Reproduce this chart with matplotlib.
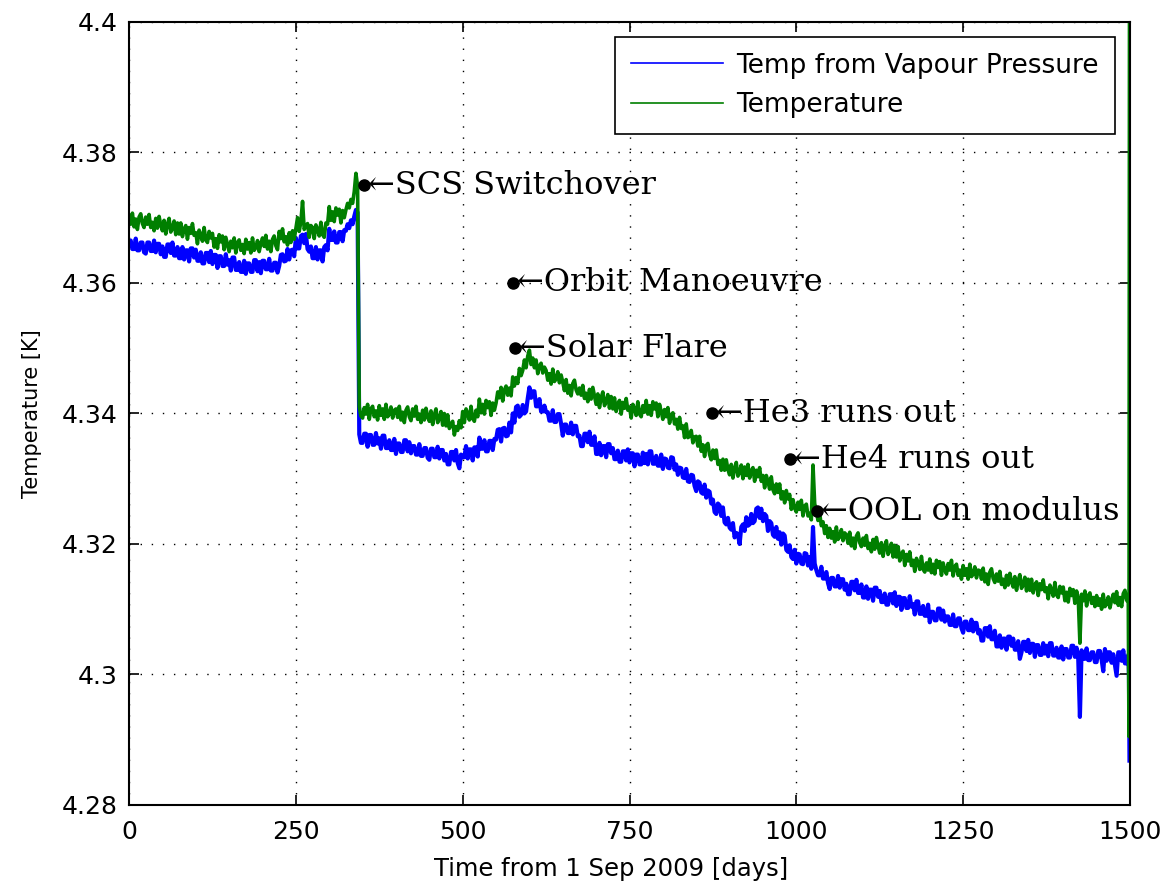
import numpy as np
import matplotlib
matplotlib.use("Agg")
import matplotlib.pyplot as plt
from matplotlib.ticker import FormatStrFormatter, FixedLocator

# ---------------- data ----------------
days = np.arange(0, 1500, 2.5)  # sampling grid, 2.5-day steps (0 .. 1497.5)

temperature = [
    4.3703, 4.3690, 4.3707, 4.3686, 4.3698, 4.3682, 4.3701, 4.3706, 4.3691, 4.3685,
    4.3701, 4.3690, 4.3705, 4.3685, 4.3693, 4.3680, 4.3699, 4.3684, 4.3702, 4.3689,
    4.3680, 4.3696, 4.3675, 4.3690, 4.3699, 4.3678, 4.3684, 4.3695, 4.3674, 4.3692,
    4.3675, 4.3692, 4.3671, 4.3683, 4.3688, 4.3667, 4.3685, 4.3676, 4.3691, 4.3673,
    4.3677, 4.3660, 4.3681, 4.3674, 4.3664, 4.3685, 4.3666, 4.3662, 4.3679, 4.3669,
    4.3676, 4.3655, 4.3668, 4.3653, 4.3674, 4.3663, 4.3672, 4.3651, 4.3670, 4.3659,
    4.3648, 4.3664, 4.3654, 4.3669, 4.3646, 4.3662, 4.3666, 4.3650, 4.3659, 4.3645,
    4.3667, 4.3652, 4.3662, 4.3646, 4.3669, 4.3650, 4.3654, 4.3665, 4.3648, 4.3660,
    4.3669, 4.3656, 4.3673, 4.3652, 4.3664, 4.3648, 4.3667, 4.3672, 4.3657, 4.3651,
    4.3679, 4.3668, 4.3683, 4.3663, 4.3671, 4.3658, 4.3677, 4.3662, 4.3680, 4.3667,
    4.3684, 4.3700, 4.3679, 4.3694, 4.3725, 4.3682, 4.3688, 4.3691, 4.3670, 4.3688,
    4.3685, 4.3668, 4.3689, 4.3682, 4.3672, 4.3693, 4.3674, 4.3670, 4.3692, 4.3690,
    4.3717, 4.3696, 4.3709, 4.3694, 4.3715, 4.3704, 4.3713, 4.3692, 4.3711, 4.3700,
    4.3712, 4.3722, 4.3715, 4.3728, 4.3722, 4.3740, 4.3768, 4.3748, 4.3410, 4.3396,
    4.3393, 4.3409, 4.3399, 4.3414, 4.3391, 4.3407, 4.3411, 4.3395, 4.3404, 4.3390,
    4.3412, 4.3397, 4.3407, 4.3391, 4.3414, 4.3395, 4.3399, 4.3410, 4.3393, 4.3405,
    4.3407, 4.3394, 4.3411, 4.3390, 4.3402, 4.3386, 4.3405, 4.3410, 4.3395, 4.3389,
    4.3407, 4.3396, 4.3411, 4.3391, 4.3399, 4.3386, 4.3405, 4.3390, 4.3408, 4.3395,
    4.3388, 4.3404, 4.3383, 4.3398, 4.3407, 4.3386, 4.3392, 4.3403, 4.3382, 4.3400,
    4.3381, 4.3398, 4.3377, 4.3383, 4.3388, 4.3367, 4.3380, 4.3374, 4.3389, 4.3378,
    4.3403, 4.3386, 4.3407, 4.3400, 4.3390, 4.3411, 4.3392, 4.3388, 4.3405, 4.3395,
    4.3422, 4.3401, 4.3414, 4.3399, 4.3420, 4.3409, 4.3418, 4.3397, 4.3416, 4.3405,
    4.3416, 4.3433, 4.3424, 4.3440, 4.3419, 4.3436, 4.3442, 4.3428, 4.3439, 4.3427,
    4.3456, 4.3442, 4.3455, 4.3446, 4.3469, 4.3458, 4.3466, 4.3482, 4.3470, 4.3488,
    4.3497, 4.3475, 4.3485, 4.3470, 4.3482, 4.3461, 4.3473, 4.3477, 4.3462, 4.3471,
    4.3466, 4.3451, 4.3461, 4.3445, 4.3468, 4.3449, 4.3453, 4.3464, 4.3447, 4.3459,
    4.3448, 4.3435, 4.3452, 4.3431, 4.3443, 4.3427, 4.3446, 4.3451, 4.3436, 4.3430,
    4.3439, 4.3428, 4.3443, 4.3423, 4.3431, 4.3418, 4.3437, 4.3422, 4.3440, 4.3427,
    4.3414, 4.3430, 4.3409, 4.3424, 4.3433, 4.3412, 4.3418, 4.3429, 4.3408, 4.3426,
    4.3407, 4.3424, 4.3403, 4.3415, 4.3420, 4.3399, 4.3417, 4.3408, 4.3423, 4.3405,
    4.3410, 4.3393, 4.3414, 4.3407, 4.3397, 4.3418, 4.3399, 4.3395, 4.3412, 4.3402,
    4.3420, 4.3399, 4.3412, 4.3397, 4.3418, 4.3407, 4.3416, 4.3395, 4.3414, 4.3403,
    4.3391, 4.3406, 4.3395, 4.3409, 4.3385, 4.3398, 4.3401, 4.3384, 4.3391, 4.3376,
    4.3394, 4.3377, 4.3381, 4.3363, 4.3384, 4.3363, 4.3365, 4.3374, 4.3355, 4.3364,
    4.3365, 4.3350, 4.3365, 4.3342, 4.3352, 4.3334, 4.3351, 4.3354, 4.3337, 4.3329,
    4.3344, 4.3331, 4.3344, 4.3322, 4.3328, 4.3313, 4.3330, 4.3313, 4.3329, 4.3314,
    4.3306, 4.3322, 4.3301, 4.3316, 4.3325, 4.3304, 4.3310, 4.3321, 4.3300, 4.3318,
    4.3305, 4.3322, 4.3301, 4.3312, 4.3317, 4.3296, 4.3313, 4.3303, 4.3317, 4.3296,
    4.3305, 4.3286, 4.3305, 4.3296, 4.3284, 4.3303, 4.3283, 4.3277, 4.3292, 4.3279,
    4.3292, 4.3269, 4.3280, 4.3263, 4.3282, 4.3269, 4.3276, 4.3253, 4.3268, 4.3255,
    4.3249, 4.3264, 4.3253, 4.3267, 4.3243, 4.3258, 4.3261, 4.3243, 4.3247, 4.3237,
    4.3321, 4.3262, 4.3250, 4.3236, 4.3247, 4.3228, 4.3234, 4.3216, 4.3228, 4.3210,
    4.3224, 4.3209, 4.3219, 4.3203, 4.3226, 4.3207, 4.3211, 4.3222, 4.3205, 4.3217,
    4.3214, 4.3201, 4.3218, 4.3197, 4.3209, 4.3193, 4.3212, 4.3217, 4.3202, 4.3196,
    4.3209, 4.3198, 4.3213, 4.3193, 4.3201, 4.3188, 4.3207, 4.3192, 4.3210, 4.3197,
    4.3186, 4.3202, 4.3181, 4.3196, 4.3205, 4.3184, 4.3190, 4.3201, 4.3180, 4.3198,
    4.3180, 4.3196, 4.3174, 4.3185, 4.3189, 4.3167, 4.3184, 4.3174, 4.3188, 4.3167,
    4.3175, 4.3158, 4.3178, 4.3171, 4.3161, 4.3181, 4.3161, 4.3157, 4.3171, 4.3160,
    4.3177, 4.3156, 4.3169, 4.3154, 4.3175, 4.3164, 4.3173, 4.3152, 4.3171, 4.3160,
    4.3154, 4.3170, 4.3160, 4.3175, 4.3151, 4.3165, 4.3169, 4.3152, 4.3160, 4.3146,
    4.3167, 4.3152, 4.3162, 4.3146, 4.3169, 4.3150, 4.3154, 4.3165, 4.3148, 4.3160,
    4.3159, 4.3146, 4.3163, 4.3142, 4.3154, 4.3138, 4.3157, 4.3162, 4.3147, 4.3141,
    4.3154, 4.3143, 4.3158, 4.3138, 4.3146, 4.3133, 4.3152, 4.3137, 4.3155, 4.3142,
    4.3134, 4.3150, 4.3129, 4.3144, 4.3153, 4.3132, 4.3138, 4.3149, 4.3128, 4.3146,
    4.3129, 4.3146, 4.3125, 4.3137, 4.3142, 4.3121, 4.3139, 4.3130, 4.3145, 4.3127,
    4.3133, 4.3116, 4.3137, 4.3130, 4.3120, 4.3141, 4.3122, 4.3118, 4.3135, 4.3125,
    4.3134, 4.3113, 4.3126, 4.3111, 4.3132, 4.3121, 4.3130, 4.3109, 4.3128, 4.3117,
    4.3048, 4.3123, 4.3113, 4.3128, 4.3105, 4.3121, 4.3125, 4.3109, 4.3118, 4.3104,
    4.3121, 4.3106, 4.3116, 4.3100, 4.3123, 4.3104, 4.3108, 4.3119, 4.3102, 4.3114,
    4.3123, 4.3110, 4.3127, 4.3106, 4.3118, 4.3104, 4.3124, 4.3129, 4.3114, 4.3110,
]
temperature_tail_days = [1498.5, 1499.3]
temperature_tail = [4.2905, 4.4050]

vapour_temp = [
    4.3665, 4.3665, 4.3652, 4.3652, 4.3668, 4.3650, 4.3650, 4.3662, 4.3662, 4.3647,
    4.3645, 4.3662, 4.3662, 4.3649, 4.3649, 4.3665, 4.3647, 4.3660, 4.3660, 4.3644,
    4.3656, 4.3640, 4.3640, 4.3659, 4.3659, 4.3646, 4.3662, 4.3642, 4.3642, 4.3655,
    4.3638, 4.3638, 4.3655, 4.3636, 4.3650, 4.3650, 4.3633, 4.3653, 4.3653, 4.3639,
    4.3651, 4.3634, 4.3634, 4.3647, 4.3630, 4.3630, 4.3646, 4.3646, 4.3632, 4.3649,
    4.3629, 4.3643, 4.3643, 4.3623, 4.3641, 4.3641, 4.3626, 4.3626, 4.3644, 4.3628,
    4.3635, 4.3619, 4.3639, 4.3639, 4.3620, 4.3620, 4.3632, 4.3617, 4.3617, 4.3634,
    4.3614, 4.3630, 4.3630, 4.3617, 4.3617, 4.3635, 4.3635, 4.3618, 4.3632, 4.3615,
    4.3634, 4.3634, 4.3621, 4.3621, 4.3637, 4.3619, 4.3619, 4.3631, 4.3631, 4.3616,
    4.3626, 4.3643, 4.3644, 4.3633, 4.3634, 4.3652, 4.3636, 4.3650, 4.3651, 4.3641,
    4.3669, 4.3653, 4.3653, 4.3672, 4.3674, 4.3661, 4.3675, 4.3652, 4.3648, 4.3656,
    4.3638, 4.3638, 4.3655, 4.3636, 4.3650, 4.3650, 4.3633, 4.3655, 4.3658, 4.3650,
    4.3683, 4.3666, 4.3666, 4.3679, 4.3662, 4.3662, 4.3678, 4.3678, 4.3664, 4.3681,
    4.3680, 4.3690, 4.3684, 4.3696, 4.3690, 4.3702, 4.3712, 4.3708, 4.3368, 4.3355,
    4.3355, 4.3369, 4.3369, 4.3349, 4.3367, 4.3367, 4.3352, 4.3352, 4.3370, 4.3354,
    4.3362, 4.3346, 4.3366, 4.3366, 4.3347, 4.3347, 4.3359, 4.3344, 4.3344, 4.3361,
    4.3338, 4.3354, 4.3354, 4.3341, 4.3341, 4.3359, 4.3359, 4.3342, 4.3356, 4.3339,
    4.3350, 4.3350, 4.3337, 4.3337, 4.3353, 4.3335, 4.3335, 4.3347, 4.3347, 4.3332,
    4.3329, 4.3346, 4.3346, 4.3333, 4.3333, 4.3349, 4.3331, 4.3344, 4.3344, 4.3328,
    4.3338, 4.3322, 4.3322, 4.3341, 4.3341, 4.3328, 4.3344, 4.3324, 4.3316, 4.3337,
    4.3333, 4.3333, 4.3350, 4.3331, 4.3345, 4.3345, 4.3328, 4.3348, 4.3348, 4.3334,
    4.3363, 4.3346, 4.3346, 4.3359, 4.3342, 4.3342, 4.3358, 4.3358, 4.3344, 4.3361,
    4.3360, 4.3375, 4.3376, 4.3357, 4.3377, 4.3378, 4.3365, 4.3366, 4.3386, 4.3371,
    4.3400, 4.3386, 4.3410, 4.3412, 4.3395, 4.3398, 4.3413, 4.3400, 4.3403, 4.3423,
    4.3440, 4.3424, 4.3434, 4.3434, 4.3411, 4.3411, 4.3422, 4.3403, 4.3403, 4.3412,
    4.3402, 4.3402, 4.3389, 4.3389, 4.3405, 4.3387, 4.3387, 4.3399, 4.3399, 4.3384,
    4.3366, 4.3383, 4.3383, 4.3370, 4.3370, 4.3386, 4.3368, 4.3381, 4.3381, 4.3365,
    4.3366, 4.3350, 4.3350, 4.3369, 4.3369, 4.3356, 4.3372, 4.3352, 4.3352, 4.3365,
    4.3338, 4.3338, 4.3355, 4.3336, 4.3350, 4.3350, 4.3333, 4.3353, 4.3353, 4.3339,
    4.3347, 4.3330, 4.3330, 4.3343, 4.3326, 4.3326, 4.3342, 4.3342, 4.3328, 4.3345,
    4.3325, 4.3339, 4.3339, 4.3319, 4.3337, 4.3337, 4.3322, 4.3322, 4.3340, 4.3324,
    4.3338, 4.3322, 4.3342, 4.3342, 4.3323, 4.3323, 4.3335, 4.3320, 4.3320, 4.3337,
    4.3315, 4.3331, 4.3330, 4.3317, 4.3316, 4.3333, 4.3332, 4.3314, 4.3322, 4.3306,
    4.3317, 4.3316, 4.3302, 4.3301, 4.3315, 4.3296, 4.3295, 4.3306, 4.3305, 4.3289,
    4.3281, 4.3296, 4.3294, 4.3279, 4.3277, 4.3291, 4.3271, 4.3282, 4.3280, 4.3262,
    4.3268, 4.3249, 4.3246, 4.3262, 4.3259, 4.3243, 4.3256, 4.3233, 4.3230, 4.3240,
    4.3225, 4.3222, 4.3232, 4.3210, 4.3217, 4.3215, 4.3200, 4.3226, 4.3230, 4.3220,
    4.3241, 4.3228, 4.3230, 4.3246, 4.3232, 4.3235, 4.3254, 4.3256, 4.3240, 4.3254,
    4.3235, 4.3246, 4.3243, 4.3220, 4.3235, 4.3232, 4.3214, 4.3211, 4.3226, 4.3208,
    4.3218, 4.3199, 4.3216, 4.3213, 4.3191, 4.3188, 4.3198, 4.3180, 4.3177, 4.3191,
    4.3170, 4.3185, 4.3184, 4.3170, 4.3169, 4.3186, 4.3185, 4.3167, 4.3180, 4.3162,
    4.3226, 4.3170, 4.3160, 4.3152, 4.3152, 4.3165, 4.3147, 4.3147, 4.3157, 4.3140,
    4.3131, 4.3148, 4.3148, 4.3135, 4.3135, 4.3151, 4.3133, 4.3146, 4.3146, 4.3130,
    4.3139, 4.3123, 4.3123, 4.3142, 4.3142, 4.3129, 4.3145, 4.3125, 4.3125, 4.3138,
    4.3118, 4.3118, 4.3135, 4.3116, 4.3130, 4.3130, 4.3113, 4.3133, 4.3133, 4.3119,
    4.3128, 4.3111, 4.3111, 4.3124, 4.3107, 4.3107, 4.3123, 4.3123, 4.3109, 4.3126,
    4.3105, 4.3119, 4.3119, 4.3099, 4.3117, 4.3117, 4.3102, 4.3102, 4.3120, 4.3104,
    4.3108, 4.3092, 4.3112, 4.3112, 4.3093, 4.3093, 4.3105, 4.3090, 4.3090, 4.3107,
    4.3080, 4.3096, 4.3096, 4.3083, 4.3083, 4.3101, 4.3101, 4.3084, 4.3098, 4.3081,
    4.3089, 4.3089, 4.3076, 4.3076, 4.3092, 4.3074, 4.3074, 4.3086, 4.3086, 4.3071,
    4.3064, 4.3081, 4.3081, 4.3068, 4.3068, 4.3084, 4.3066, 4.3079, 4.3079, 4.3063,
    4.3068, 4.3052, 4.3052, 4.3071, 4.3071, 4.3058, 4.3074, 4.3054, 4.3054, 4.3067,
    4.3043, 4.3043, 4.3060, 4.3041, 4.3055, 4.3055, 4.3038, 4.3058, 4.3058, 4.3044,
    4.3055, 4.3038, 4.3038, 4.3051, 4.3024, 4.3034, 4.3050, 4.3050, 4.3036, 4.3053,
    4.3033, 4.3047, 4.3047, 4.3027, 4.3045, 4.3045, 4.3030, 4.3030, 4.3048, 4.3032,
    4.3044, 4.3028, 4.3048, 4.3048, 4.3029, 4.3029, 4.3041, 4.3026, 4.3026, 4.3043,
    4.3023, 4.3039, 4.3039, 4.3026, 4.3026, 4.3044, 4.3044, 4.3027, 4.3041, 4.3024,
    4.2935, 4.3037, 4.3024, 4.3024, 4.3040, 4.3022, 4.3022, 4.3034, 4.3034, 4.3019,
    4.3019, 4.3036, 4.3036, 4.3023, 4.3005, 4.3039, 4.3021, 4.3034, 4.3034, 4.3018,
    4.3031, 4.3015, 4.2998, 4.3034, 4.3034, 4.3021, 4.3037, 4.3017, 4.3017, 4.3030,
]
vapour_tail_days = [1498.5, 1499.3]
vapour_tail = [4.3000, 4.2868]

event_days = [352, 575, 578, 873, 990, 1031]
event_temps = [4.3750, 4.3600, 4.3500, 4.3400, 4.3330, 4.3250]
event_labels = ["SCS Switchover", "Orbit Manoeuvre", "Solar Flare",
                "He3 runs out", "He4 runs out", "OOL on modulus"]

x_ticks = [0, 250, 500, 750, 1000, 1250, 1500]
y_ticks = [4.28, 4.30, 4.32, 4.34, 4.36, 4.38, 4.40]

assert len(temperature) == len(days) and len(vapour_temp) == len(days)

# ---------------- figure ----------------
fig = plt.figure(figsize=(11.69, 8.89), dpi=100)
ax = fig.add_axes([0.1104, 0.0945, 0.8562, 0.8808])

x_blue = np.concatenate([days, vapour_tail_days])
y_blue = np.concatenate([vapour_temp, vapour_tail])
x_green = np.concatenate([days, temperature_tail_days])
y_green = np.concatenate([temperature, temperature_tail])

ax.plot(x_blue, y_blue, color="#0000FF", lw=3.0, label="Temp from Vapour Pressure")
ax.plot(x_green, y_green, color="#007F00", lw=2.6, label="Temperature")

serif = ["DejaVu Serif", "DejaVu Sans"]
for d, t, lab in zip(event_days, event_temps, event_labels):
    ax.plot([d], [t], "o", color="black", ms=8, zorder=5)
    ax.annotate("\u2190" + lab, xy=(d, t), xytext=(3, 0), textcoords="offset points",
                ha="left", va="center", fontsize=23, family=serif, color="black",
                zorder=6, annotation_clip=False)

ax.set_xlim(0, 1500)
ax.set_ylim(4.28, 4.40)
ax.xaxis.set_major_locator(FixedLocator(x_ticks))
ax.yaxis.set_major_locator(FixedLocator(y_ticks))
ax.yaxis.set_major_formatter(FormatStrFormatter("%g"))

ax.grid(True, color="black", linestyle=(0, (1, 7)), linewidth=1.0)
ax.tick_params(direction="in", length=7, width=1.2, top=True, right=True,
               labelsize=18)
ax.tick_params(axis="x", pad=11)
ax.tick_params(axis="y", pad=8)
for lab in ax.get_xticklabels() + ax.get_yticklabels():
    lab.set_family("DejaVu Sans")
for s in ax.spines.values():
    s.set_linewidth(1.5)
    s.set_color("black")

ax.set_xlabel("Time from 1 Sep 2009 [days]", fontsize=17.5, family="DejaVu Sans")
ax.xaxis.set_label_coords(0.4815, -0.066)
ax.set_ylabel("Temperature [K]", fontsize=15, family="DejaVu Sans")
ax.yaxis.set_label_coords(-0.087, 0.5)

leg = ax.legend(loc="upper right", bbox_to_anchor=(0.985, 0.981), borderaxespad=0,
                fancybox=False, framealpha=1, edgecolor="black",
                prop={"family": "DejaVu Sans", "size": 19},
                handlelength=3.5, handletextpad=0.5, borderpad=0.6, labelspacing=0.5)
leg.get_frame().set_linewidth(1.2)
for h in leg.get_lines():
    h.set_linewidth(1.2)

fig.savefig("out.png", dpi=100, facecolor="white")
